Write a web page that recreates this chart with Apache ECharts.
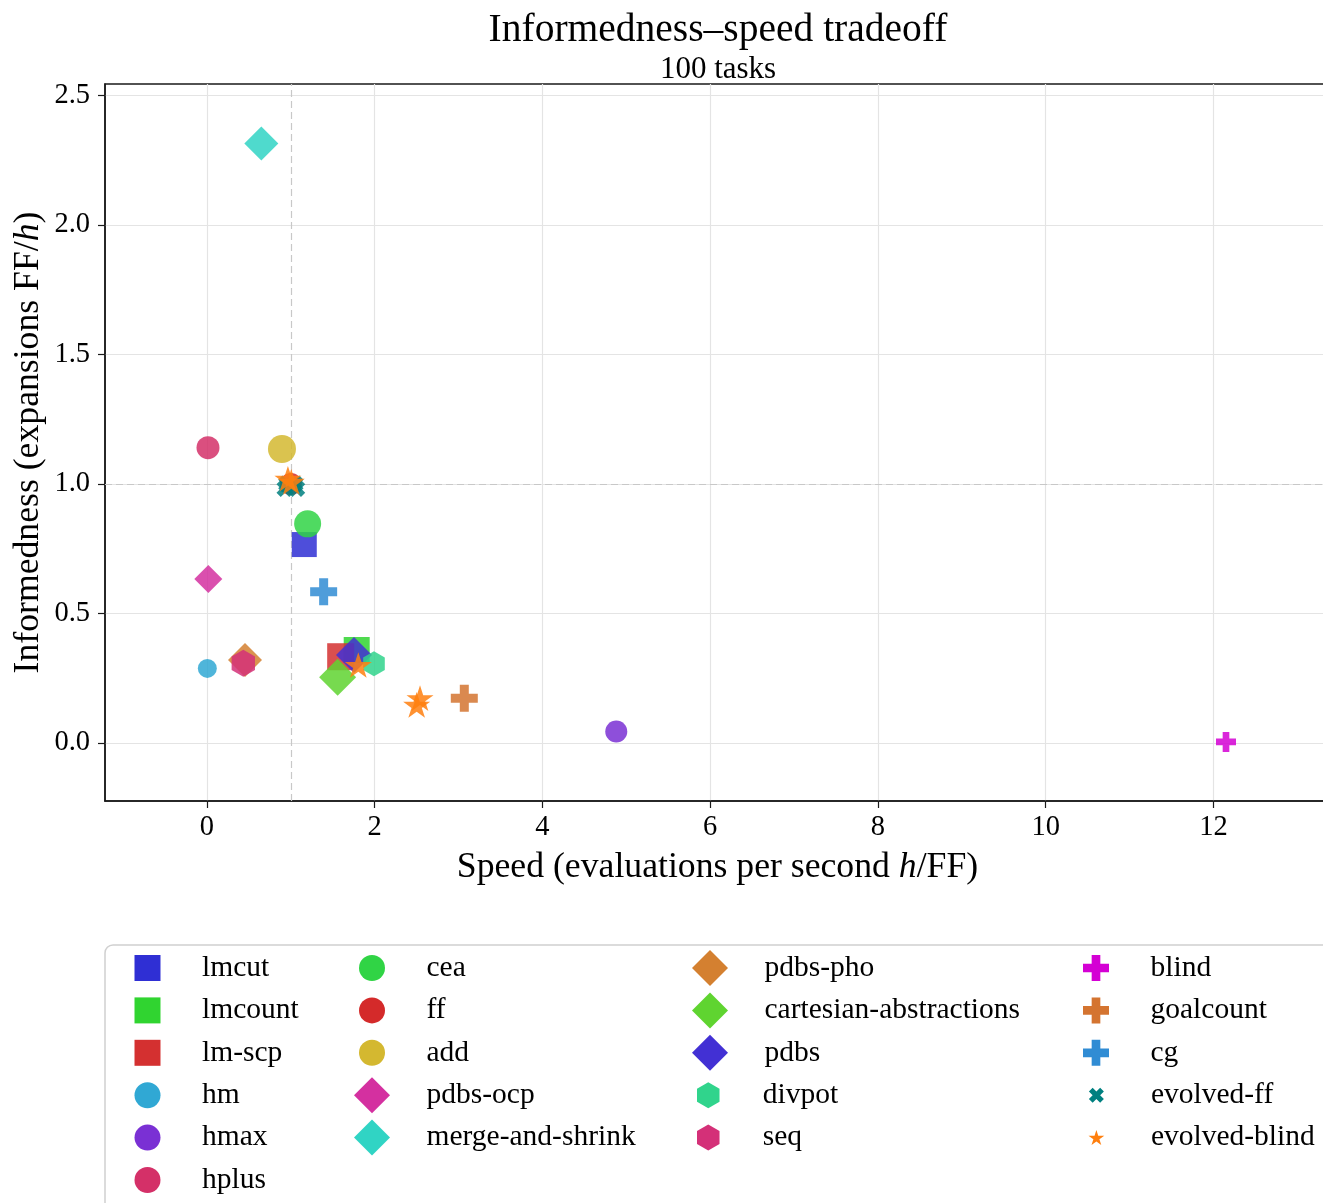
<!DOCTYPE html>
<html><head><meta charset="utf-8">
<script src="https://cdn.jsdelivr.net/npm/echarts@6/dist/echarts.min.js"></script>
<style>html,body{margin:0;padding:0;background:#fff}#chart{width:1323px;height:1203px}</style>
</head><body><div id="chart"></div>
<script>
// ---------------- data ----------------
const titleText = 'Informedness\u2013speed tradeoff';
const subtitleText = '100 tasks';
const xAxisName = 'Speed (evaluations per second {i|h}/FF)';
const yAxisName = 'Informedness (expansions FF/{i|h})';
const xTicks = [0, 2, 4, 6, 8, 10, 12];
const yTicks = [0, 0.5, 1, 1.5, 2, 2.5];
const xRange = [-1.216, 13.39];
const yRange = [-0.224, 2.544];
const refSpeed = 1.0;
const refInformedness = 1.0;

const heuristics = ['lmcut', 'lmcount', 'lm-scp', 'hm', 'hmax', 'hplus', 'cea', 'ff', 'add',
  'pdbs-ocp', 'merge-and-shrink', 'pdbs-pho', 'cartesian-abstractions', 'pdbs', 'divpot', 'seq',
  'blind', 'goalcount', 'cg', 'evolved-ff', 'evolved-blind'];

// [speed, informedness]
const lmcut = [[1.16, 0.766]];
const lmcount = [[1.785, 0.359]];
const lmScp = [[1.594, 0.333]];
const hm = [[0.004, 0.288]];
const hmax = [[4.88, 0.044]];
const hplus = [[0.012, 1.14]];
const cea = [[1.2, 0.846]];
const ff = [[1.0, 1.0]];
const add = [[0.894, 1.135]];
const pdbsOcp = [[0.016, 0.633]];
const mergeAndShrink = [[0.648, 2.314]];
const pdbsPho = [[0.453, 0.32]];
const cartesianAbstractions = [[1.558, 0.254]];
const pdbs = [[1.753, 0.34]];
const divpot = [[1.991, 0.306]];
const seq = [[0.433, 0.308]];
const blind = [[12.15, 0.004]];
const goalcount = [[3.068, 0.173]];
const cg = [[1.391, 0.584]];
const evolvedFf = [[0.93, 0.982], [1.07, 0.982], [0.95, 1.0], [1.05, 1.0]];
const evolvedBlind = [[1.005, 1.008], [0.965, 1.02], [1.804, 0.301], [2.5, 0.147], [2.54, 0.173]];

const seriesValues = {
  'lmcut': lmcut, 'lmcount': lmcount, 'lm-scp': lmScp, 'hm': hm, 'hmax': hmax, 'hplus': hplus,
  'cea': cea, 'ff': ff, 'add': add, 'pdbs-ocp': pdbsOcp, 'merge-and-shrink': mergeAndShrink,
  'pdbs-pho': pdbsPho, 'cartesian-abstractions': cartesianAbstractions, 'pdbs': pdbs,
  'divpot': divpot, 'seq': seq, 'blind': blind, 'goalcount': goalcount, 'cg': cg,
  'evolved-ff': evolvedFf, 'evolved-blind': evolvedBlind
};

const legendColumns = [
  ['lmcut', 'lmcount', 'lm-scp', 'hm', 'hmax', 'hplus'],
  ['cea', 'ff', 'add', 'pdbs-ocp', 'merge-and-shrink'],
  ['pdbs-pho', 'cartesian-abstractions', 'pdbs', 'divpot', 'seq'],
  ['blind', 'goalcount', 'cg', 'evolved-ff', 'evolved-blind']
];

// ---------------- styles ----------------
const SHAPES = {
  square: 'path://M-1,-1L1,-1L1,1L-1,1Z',
  circle: 'circle',
  diamond: 'path://M0,-1L1,0L0,1L-1,0Z',
  hexagon: 'path://M0,-1L0.866,-0.5L0.866,0.5L0,1L-0.866,0.5L-0.866,-0.5Z',
  plus: 'path://M-1,-3L1,-3L1,-1L3,-1L3,1L1,1L1,3L-1,3L-1,1L-3,1L-3,-1L-1,-1Z',
  cross: 'path://M-1,-2L0,-1L1,-2L2,-1L1,0L2,1L1,2L0,1L-1,2L-2,1L-1,0L-2,-1Z',
  star: 'path://M0,-1L0.2245,-0.309L0.9511,-0.309L0.3633,0.118L0.5878,0.809L0,0.382L-0.5878,0.809L-0.3633,0.118L-0.9511,-0.309L-0.2245,-0.309Z'
};
const LEGEND_SIZE = { square: 26, circle: 26, diamond: 36, hexagon: 26, plus: 26, cross: 15, star: 15 };
const styleOf = {
  'lmcut': { shape: 'square', color: '#2f2fd4', size: 25 },
  'lmcount': { shape: 'square', color: '#30d430', size: 26 },
  'lm-scp': { shape: 'square', color: '#d43030', size: 27 },
  'hm': { shape: 'circle', color: '#30a8d4', size: 19 },
  'hmax': { shape: 'circle', color: '#7a30d4', size: 22 },
  'hplus': { shape: 'circle', color: '#d43068', size: 23 },
  'cea': { shape: 'circle', color: '#30d445', size: 27 },
  'ff': { shape: 'circle', color: '#d42a2a', size: 22 },
  'add': { shape: 'circle', color: '#d4b830', size: 28 },
  'pdbs-ocp': { shape: 'diamond', color: '#d430a0', size: 28 },
  'merge-and-shrink': { shape: 'diamond', color: '#30d4c4', size: 34 },
  'pdbs-pho': { shape: 'diamond', color: '#d48030', size: 34 },
  'cartesian-abstractions': { shape: 'diamond', color: '#5fd430', size: 37 },
  'pdbs': { shape: 'diamond', color: '#4230d4', size: 36 },
  'divpot': { shape: 'hexagon', color: '#30d48c', size: 25 },
  'seq': { shape: 'hexagon', color: '#d43078', size: 27 },
  'blind': { shape: 'plus', color: '#d400d4', size: 20 },
  'goalcount': { shape: 'plus', color: '#d47430', size: 27 },
  'cg': { shape: 'plus', color: '#308cd4', size: 27 },
  'evolved-ff': { shape: 'cross', color: '#008080', size: 17 },
  'evolved-blind': { shape: 'star', color: '#ff7f0e', size: 27 }
};
const FONT = 'Liberation Serif';
const grid = { left: 105, top: 84, width: 1225, height: 717 };
const legendIconX = [147.5, 372, 710, 1096];
const legendRow0 = 968, legendRowStep = 42.4, legendTextOffset = 54.5, legendTextH = 30;

// ---------------- build ----------------
const series = heuristics.map(name => {
  const st = styleOf[name];
  return {
    type: 'scatter', name: name, data: seriesValues[name],
    symbol: SHAPES[st.shape], symbolSize: st.size, symbolKeepAspect: true,
    itemStyle: { color: st.color, opacity: 0.85 },
    emphasis: { disabled: true }, z: 2
  };
});
series.push({
  type: 'scatter', name: '_ref', data: [], silent: true,
  markLine: {
    silent: true, symbol: ['none', 'none'], label: { show: false }, z: 1,
    animation: false, emphasis: { disabled: true },
    lineStyle: { color: '#c8c8c8', type: [7, 4], width: 1.2 },
    data: [{ xAxis: refSpeed }, { yAxis: refInformedness }]
  }
});

const legends = [];
legendColumns.forEach((col, ci) => {
  let start = 0;
  while (start < col.length) {
    const sz = LEGEND_SIZE[styleOf[col[start]].shape];
    let end = start;
    while (end < col.length && LEGEND_SIZE[styleOf[col[end]].shape] === sz) end++;
    const names = col.slice(start, end);
    const itemW = 2 * (legendTextOffset - 5);
    const h = Math.max(sz, legendTextH);
    legends.push({
      orient: 'vertical', padding: 0, selectedMode: false,
      left: legendIconX[ci] - sz / 2,
      top: legendRow0 + start * legendRowStep - h / 2,
      itemWidth: itemW, itemHeight: sz, itemGap: legendRowStep - h,
      symbolKeepAspect: true,
      itemStyle: { opacity: 1 },
      textStyle: { fontFamily: FONT, fontSize: 29.5, color: '#000', lineHeight: legendTextH },
      data: names.map(n => ({ name: n, icon: SHAPES[styleOf[n].shape] }))
    });
    start = end;
  }
});

const option = {
  animation: false,
  backgroundColor: '#fff',
  textStyle: { fontFamily: FONT },
  title: [
    { text: titleText, left: 718, top: 11, textAlign: 'center', padding: 0,
      textStyle: { fontFamily: FONT, fontSize: 39.5, fontWeight: 'normal', color: '#000', lineHeight: 39.5 } },
    { text: subtitleText, left: 718, top: 54, textAlign: 'center', padding: 0,
      textStyle: { fontFamily: FONT, fontSize: 31, fontWeight: 'normal', color: '#000', lineHeight: 31 } }
  ],
  grid: Object.assign({ show: true, borderColor: '#1a1a1a', borderWidth: 1.5, containLabel: false, outerBoundsMode: 'none' }, grid),
  xAxis: {
    type: 'value', min: xRange[0], max: xRange[1], splitNumber: 7,
    name: xAxisName, nameLocation: 'middle', nameGap: 49, nameMoveOverlap: false,
    nameTextStyle: { fontFamily: FONT, fontSize: 35.7, color: '#000', lineHeight: 36,
      rich: { i: { fontFamily: FONT, fontSize: 35.7, fontStyle: 'italic', color: '#000', lineHeight: 36 } } },
    axisLine: { show: true, onZero: false, lineStyle: { color: '#1a1a1a', width: 1.5 } },
    axisTick: { show: true, length: 7, customValues: xTicks, lineStyle: { color: '#1a1a1a', width: 1.2 } },
    axisLabel: { show: true, margin: 12, customValues: xTicks, fontFamily: FONT, fontSize: 28.5, color: '#000', lineHeight: 28.5,
      formatter: v => String(v) },
    splitLine: { show: true, lineStyle: { color: '#e4e4e4', width: 1.2 } }
  },
  yAxis: {
    type: 'value', min: yRange[0], max: yRange[1], splitNumber: 5,
    name: yAxisName, nameLocation: 'middle', nameGap: 58, nameMoveOverlap: false,
    nameTextStyle: { fontFamily: FONT, fontSize: 35.7, color: '#000', lineHeight: 36,
      rich: { i: { fontFamily: FONT, fontSize: 35.7, fontStyle: 'italic', color: '#000', lineHeight: 36 } } },
    axisLine: { show: true, onZero: false, lineStyle: { color: '#1a1a1a', width: 1.5 } },
    axisTick: { show: true, length: 7, customValues: yTicks, lineStyle: { color: '#1a1a1a', width: 1.2 } },
    axisLabel: { show: true, margin: 15, customValues: yTicks, fontFamily: FONT, fontSize: 28.5, color: '#000', lineHeight: 28.5,
      formatter: v => v.toFixed(1) },
    splitLine: { show: true, lineStyle: { color: '#e4e4e4', width: 1.2 } }
  },
  legend: legends,
  graphic: [{
    type: 'rect', silent: true, z: -1,
    shape: { x: 105, y: 945, width: 1225, height: 300, r: 8 },
    style: { fill: '#fff', stroke: '#d0d0d0', lineWidth: 1.5 }
  }],
  series: series
};

const chart = echarts.init(document.getElementById('chart'), null, { renderer: 'canvas' });
chart.setOption(option);
</script>
</body></html>
